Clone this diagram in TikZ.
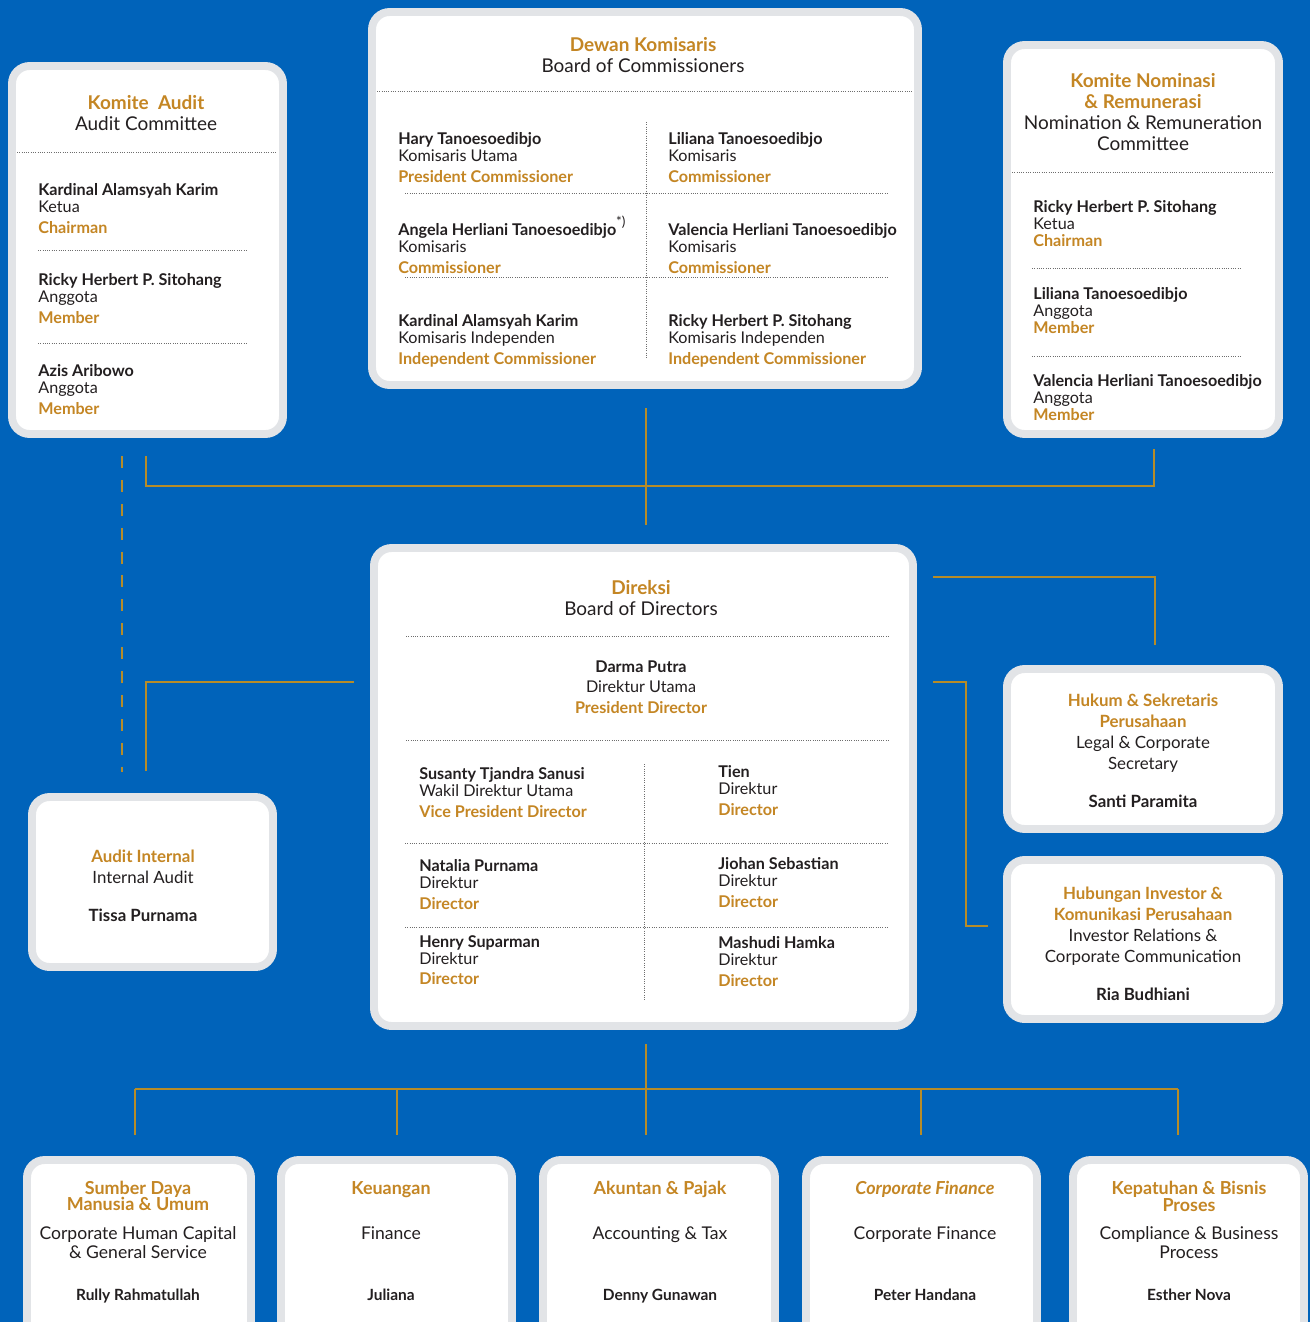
\documentclass[tikz,border=0pt]{standalone}
\usepackage{fontspec}
\setmainfont{Lato}
\usepackage{tikz}
\usetikzlibrary{fit, calc}
\definecolor{bgblue}{RGB}{0,99,186}
\definecolor{rimgray}{RGB}{226,228,231}
\definecolor{goldtext}{RGB}{196,134,36}
\definecolor{goldline}{RGB}{182,140,40}
\definecolor{inkgray}{RGB}{35,31,32}
\definecolor{sepgray}{RGB}{110,110,110}
\newcommand{\goldtxt}[1]{{\color{goldtext}\bfseries #1}}

\begin{document}
\begin{tikzpicture}[
    x=0.02cm, y=-0.02cm,
    box/.style={draw=rimgray, line width=4.5pt, fill=white, rounded corners=10pt, inner sep=0pt},
    title/.style={anchor=north, align=center, inner sep=0pt, text=inkgray, font=\fontsize{10.8}{11.9}\selectfont},
    unit/.style={anchor=north, align=center, inner sep=0pt, text=inkgray, font=\fontsize{9.6}{11.9}\selectfont},
    entry/.style={anchor=north west, align=left, inner sep=0pt, text=inkgray, font=\fontsize{9.2}{9.7}\selectfont},
    dept/.style={anchor=north, align=center, inner sep=0pt, text=inkgray, font=\fontsize{10}{10.8}\selectfont},
    head/.style={anchor=north, align=center, inner sep=0pt, font=\fontsize{10.2}{8.7}\selectfont},
    chief/.style={anchor=north, inner sep=0pt, text=inkgray, font=\fontsize{8.8}{10}\selectfont\bfseries},
    sep/.style={draw=sepgray, line width=0.5pt, dash pattern=on 0.5pt off 0.8pt},
    link/.style={draw=goldline, line width=1.2pt},
    dlink/.style={link, dash pattern=on 6.8pt off 6.8pt}
]
    \useasboundingbox (0,0) rectangle (1310,1322);
    \fill[bgblue] (0,0) rectangle (1310,1322);
    \clip (0,0) rectangle (1310,1322);

    % Boxes
    \node[box, fit={(12,66) (283,434)}] (ac) {};
    \node[box, fit={(372,12) (918,385)}] (boc) {};
    \node[box, fit={(1007,45) (1279,434)}] (nrc) {};
    \node[box, fit={(374,548) (913,1026)}] (bod) {};
    \node[box, fit={(32,797) (273,967)}] (ia) {};
    \node[box, fit={(1007,669) (1279,829)}] (legal) {};
    \node[box, fit={(1007,860) (1279,1019)}] (ir) {};
    \node[box, fit={(27,1160) (251,1345)}] (hr) {};
    \node[box, fit={(281,1160) (512,1345)}] (fin) {};
    \node[box, fit={(543,1160) (775,1345)}] (acc) {};
    \node[box, fit={(806,1160) (1037,1345)}] (cf) {};
    \node[box, fit={(1073,1160) (1304,1345)}] (comp) {};

    % Audit Committee
    \node[title] (ac-t) at (146,95) {\goldtxt{Komite\ \ Audit}\\Audit Committee};
    \draw[sep] (17,152) -- (277,152);
    \node[entry] (ac-1) at (38,183) {\textbf{Kardinal Alamsyah Karim}\\Ketua\\[2.1pt]\goldtxt{Chairman}};
    \draw[sep] (38,250) -- (246,250);
    \node[entry] (ac-2) at (38,273) {\textbf{Ricky Herbert P. Sitohang}\\Anggota\\[2.1pt]\goldtxt{Member}};
    \draw[sep] (38,343) -- (246,343);
    \node[entry] (ac-3) at (38,364) {\textbf{Azis Aribowo}\\Anggota\\[2.1pt]\goldtxt{Member}};

    % Board of Commissioners
    \node[title] (boc-t) at (643,37) {\goldtxt{Dewan Komisaris}\\Board of Commissioners};
    \draw[sep] (377,91) -- (913,91);
    \draw[sep] (646,122) -- (646,358);
    \draw[sep] (405,193) -- (887,193);
    \draw[sep] (405,277) -- (887,277);
    \node[entry] (boc-1) at (398,132) {\textbf{Hary Tanoesoedibjo}\\Komisaris Utama\\[2.1pt]\goldtxt{President Commissioner}};
    \node[entry] (boc-2) at (668,132) {\textbf{Liliana Tanoesoedibjo}\\Komisaris\\[2.1pt]\goldtxt{Commissioner}};
    \node[entry] (boc-3) at (398,223) {\textbf{Angela Herliani Tanoesoedibjo}\smash{\raisebox{0.8pt}{\fontsize{11}{11}\selectfont\textsuperscript{*)}}}\\Komisaris\\[2.1pt]\goldtxt{Commissioner}};
    \node[entry] (boc-4) at (668,223) {\textbf{Valencia Herliani Tanoesoedibjo}\\Komisaris\\[2.1pt]\goldtxt{Commissioner}};
    \node[entry] (boc-5) at (398,314) {\textbf{Kardinal Alamsyah Karim}\\Komisaris Independen\\[2.1pt]\goldtxt{Independent Commissioner}};
    \node[entry] (boc-6) at (668,314) {\textbf{Ricky Herbert P. Sitohang}\\Komisaris Independen\\[2.1pt]\goldtxt{Independent Commissioner}};

    % Nomination & Remuneration Committee
    \node[title] (nrc-t) at (1143,73) {\goldtxt{Komite Nominasi}\\\goldtxt{\& Remunerasi}\\Nomination \& Remuneration\\Committee};
    \draw[sep] (1012,172) -- (1273,172);
    \node[entry] (nrc-1) at (1033,200) {\textbf{Ricky Herbert P. Sitohang}\\Ketua\\[0.3pt]\goldtxt{Chairman}};
    \draw[sep] (1032,268) -- (1240,268);
    \node[entry] (nrc-2) at (1033,287) {\textbf{Liliana Tanoesoedibjo}\\Anggota\\[0.3pt]\goldtxt{Member}};
    \draw[sep] (1032,356) -- (1240,356);
    \node[entry] (nrc-3) at (1033,374) {\textbf{Valencia Herliani Tanoesoedibjo}\\Anggota\\[0.3pt]\goldtxt{Member}};

    % Board of Directors
    \node[title] (bod-t) at (641,580) {\goldtxt{Direksi}\\Board of Directors};
    \draw[sep] (406,636) -- (888,636);
    \node[entry, anchor=north, align=center, font=\fontsize{9.2}{11.9}\selectfont] (bod-0) at (641,660) {\textbf{Darma Putra}\\Direktur Utama\\\goldtxt{President Director}};
    \draw[sep] (406,740) -- (888,740);
    \draw[sep] (644,764) -- (644,1000);
    \draw[sep] (405,843) -- (887,843);
    \draw[sep] (405,927) -- (887,927);
    \node[entry] (bod-1) at (419,767) {\textbf{Susanty Tjandra Sanusi}\\Wakil Direktur Utama\\[2.1pt]\goldtxt{Vice President Director}};
    \node[entry] (bod-2) at (718,765) {\textbf{Tien}\\Direktur\\[2.1pt]\goldtxt{Director}};
    \node[entry] (bod-3) at (419,859) {\textbf{Natalia Purnama}\\Direktur\\[2.1pt]\goldtxt{Director}};
    \node[entry] (bod-4) at (718,857) {\textbf{Jiohan Sebastian}\\Direktur\\[2.1pt]\goldtxt{Director}};
    \node[entry] (bod-5) at (419,935) {\textbf{Henry Suparman}\\Direktur\\[2.1pt]\goldtxt{Director}};
    \node[entry] (bod-6) at (718,936) {\textbf{Mashudi Hamka}\\Direktur\\[2.1pt]\goldtxt{Director}};

    % Side units
    \node[unit] (ia-t) at (143,850) {\goldtxt{Audit Internal}\\Internal Audit\\[9.6pt]\textbf{Tissa Purnama}};
    \node[unit] (legal-t) at (1143,694) {\goldtxt{Hukum \& Sekretaris}\\\goldtxt{Perusahaan}\\Legal \& Corporate\\Secretary\\[9.6pt]\textbf{Santi Paramita}};
    \node[unit] (ir-t) at (1143,887) {\goldtxt{Hubungan Investor \&}\\\goldtxt{Komunikasi Perusahaan}\\Investor Relations \&\\Corporate Communication\\[9.6pt]\textbf{Ria Budhiani}};

    % Departments
    \node[head] (hr-t) at (138,1181) {\goldtxt{Sumber Daya}\\[-1.2pt]\goldtxt{Manusia \& Umum}};
    \node[dept] (hr-e) at (138,1226) {Corporate Human Capital\\\& General Service};
    \node[chief] (hr-c) at (138,1289) {Rully Rahmatullah};
    \node[head] (fin-t) at (391,1181) {\goldtxt{Keuangan}};
    \node[dept] (fin-e) at (391,1226) {Finance};
    \node[chief] (fin-c) at (391,1289) {Juliana};
    \node[head] (acc-t) at (660,1181) {\goldtxt{Akuntan \& Pajak}};
    \node[dept] (acc-e) at (660,1226) {Accounting \& Tax};
    \node[chief] (acc-c) at (660,1289) {Denny Gunawan};
    \node[head] (cf-t) at (925,1181) {\goldtxt{\itshape Corporate Finance}};
    \node[dept] (cf-e) at (925,1226) {Corporate Finance};
    \node[chief] (cf-c) at (925,1289) {Peter Handana};
    \node[head] (comp-t) at (1189,1181) {\goldtxt{Kepatuhan \& Bisnis}\\[-0.4pt]\goldtxt{Proses}};
    \node[dept] (comp-e) at (1189,1226) {Compliance \& Business\\Process};
    \node[chief] (comp-c) at (1189,1289) {Esther Nova};

    % Connector ends
    \coordinate (boc-s) at (646,408);
    \coordinate (bod-n) at (646,525);
    \coordinate (hub) at (646,486);
    \coordinate (ac-s) at (146,456);
    \coordinate (nrc-s) at (1154,449);
    \coordinate (ac-d) at (122,456);
    \coordinate (ia-d) at (122,772);
    \coordinate (bod-w) at (354,682);
    \coordinate (ia-n) at (146,771);
    \coordinate (bod-e1) at (933,577);
    \coordinate (legal-n) at (1155,645);
    \coordinate (bod-e2) at (933,682);
    \coordinate (ir-knee) at (966,926);
    \coordinate (ir-w) at (988,926);
    \coordinate (bod-s) at (646,1044);
    \coordinate (bus-w) at (135,1089);
    \coordinate (bus-e) at (1178,1089);
    \coordinate (hr-n) at (135,1135);
    \coordinate (fin-n) at (397,1135);
    \coordinate (acc-n) at (646,1135);
    \coordinate (cf-n) at (921,1135);
    \coordinate (comp-n) at (1178,1135);

    % Connectors
    \draw[link] (boc-s) -- (bod-n);
    \draw[link] (ac-s) |- (hub) -| (nrc-s);
    \draw[dlink] (ac-d) -- (ia-d);
    \draw[link] (bod-w) -| (ia-n);
    \draw[link] (bod-e1) -| (legal-n);
    \draw[link] (bod-e2) -| (ir-knee) -- (ir-w);
    \draw[link] (bod-s) -- (acc-n |- bus-w);
    \draw[link, line width=1.6pt] (bus-w) -- (bus-e);
    \foreach \u in {hr, fin, acc, cf, comp}
        \draw[link] (\u-n |- bus-w) -- (\u-n);
\end{tikzpicture}
\end{document}
